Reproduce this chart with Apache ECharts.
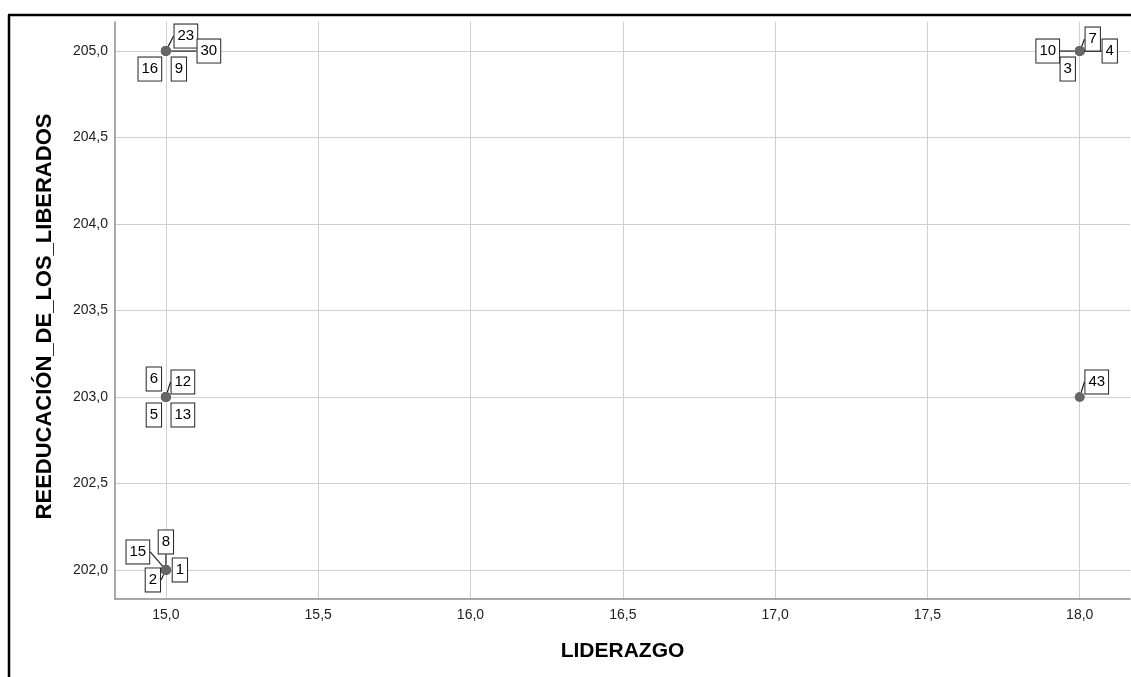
<!DOCTYPE html>
<html>
<head>
<meta charset="utf-8">
<script src="https://cdn.jsdelivr.net/npm/echarts@6/dist/echarts.min.js"></script>
<style>
html,body{margin:0;padding:0;background:#fff;}
#chart{width:1131px;height:677px;}
</style>
</head>
<body>
<div id="chart"></div>
<script>
// ---- data ----
var caseIds     = [23, 30, 16, 9, 10, 3, 7, 4, 6, 12, 5, 13, 43, 8, 15, 2, 1];
var liderazgo   = [15, 15, 15, 15, 18, 18, 18, 18, 15, 15, 15, 15, 18, 15, 15, 15, 15];
var reeducacion = [205, 205, 205, 205, 205, 205, 205, 205, 203, 203, 203, 203, 203, 202, 202, 202, 202];
var xAxisName = 'LIDERAZGO';
var yAxisName = 'REEDUCACIÓN_DE_LOS_LIBERADOS';

// ---- label placement (pixel offsets of each case label from its point, and whether a leader line shows) ----
var labelDx = [20, 43, -16, 13, -32, -12, 13, 30, -12, 17, -12, 17, 17, 0, -28, -13, 14];
var labelDy = [-15, 0, 18, 18, 0, 18, -12, 0, -18, -15, 18, 18, -15, -28, -18, 10, 0];
var leader  = [true, true, false, false, true, false, true, true, false, true, false, false, true, true, true, true, false];

var pts = caseIds.map(function (id, i) {
  return { value: [liderazgo[i], reeducacion[i]], name: String(id), labelLine: { show: leader[i] } };
});

function fmt(v) { return v.toFixed(1).replace('.', ','); }

var chart = echarts.init(document.getElementById('chart'));
chart.setOption({
  animation: false,
  backgroundColor: '#fff',
  grid: { left: 115, right: 1, top: 22, bottom: 78, containLabel: false },
  xAxis: {
    type: 'value',
    min: 14.833, max: 18.165,
    splitNumber: 6,
    name: xAxisName,
    nameLocation: 'middle',
    nameGap: 42,
    nameTextStyle: { fontFamily: 'Liberation Sans', fontSize: 21, fontWeight: 'bold', color: '#000' },
    axisLine: { show: true, lineStyle: { color: '#8c8c8c', width: 1.5 } },
    axisTick: { show: false },
    axisLabel: { formatter: fmt, showMinLabel: false, showMaxLabel: false, margin: 9,
      fontFamily: 'Liberation Sans', fontSize: 14, color: '#222' },
    splitLine: { show: true, showMinLine: false, showMaxLine: false, lineStyle: { color: '#cfcfcf', width: 1 } }
  },
  yAxis: {
    type: 'value',
    min: 201.832, max: 205.168,
    splitNumber: 6,
    name: yAxisName,
    nameLocation: 'middle',
    nameGap: 59,
    nameTextStyle: { fontFamily: 'Liberation Sans', fontSize: 22, fontWeight: 'bold', color: '#000', padding: [0, 12, 0, 0] },
    axisLine: { show: true, lineStyle: { color: '#8c8c8c', width: 1.5 } },
    axisTick: { show: false },
    axisLabel: { formatter: fmt, showMinLabel: false, showMaxLabel: false, margin: 7,
      fontFamily: 'Liberation Sans', fontSize: 14, color: '#222' },
    splitLine: { show: true, showMinLine: false, showMaxLine: false, lineStyle: { color: '#cfcfcf', width: 1 } }
  },
  graphic: [
    { type: 'line', shape: { x1: 9, y1: 15, x2: 9, y2: 677 }, style: { stroke: '#000', lineWidth: 2.5 } },
    { type: 'line', shape: { x1: 8, y1: 15, x2: 1131, y2: 15 }, style: { stroke: '#000', lineWidth: 2.5 } }
  ],
  series: [{
    type: 'scatter',
    data: pts,
    symbol: 'circle',
    symbolSize: 10,
    itemStyle: { color: '#666666', opacity: 1 },
    label: {
      show: true,
      position: 'inside',
      formatter: '{b}',
      fontFamily: 'Liberation Sans',
      fontSize: 15,
      lineHeight: 15,
      color: '#000',
      backgroundColor: '#fff',
      borderColor: '#222',
      borderWidth: 1,
      padding: [4, 3, 4, 3]
    },
    labelLine: { show: true, lineStyle: { color: '#222', width: 1.2 } },
    labelLayout: function (p) {
      return { dx: labelDx[p.dataIndex], dy: labelDy[p.dataIndex], hideOverlap: false, moveOverlap: null };
    },
    emphasis: { disabled: true }
  }]
});
</script>
</body>
</html>
